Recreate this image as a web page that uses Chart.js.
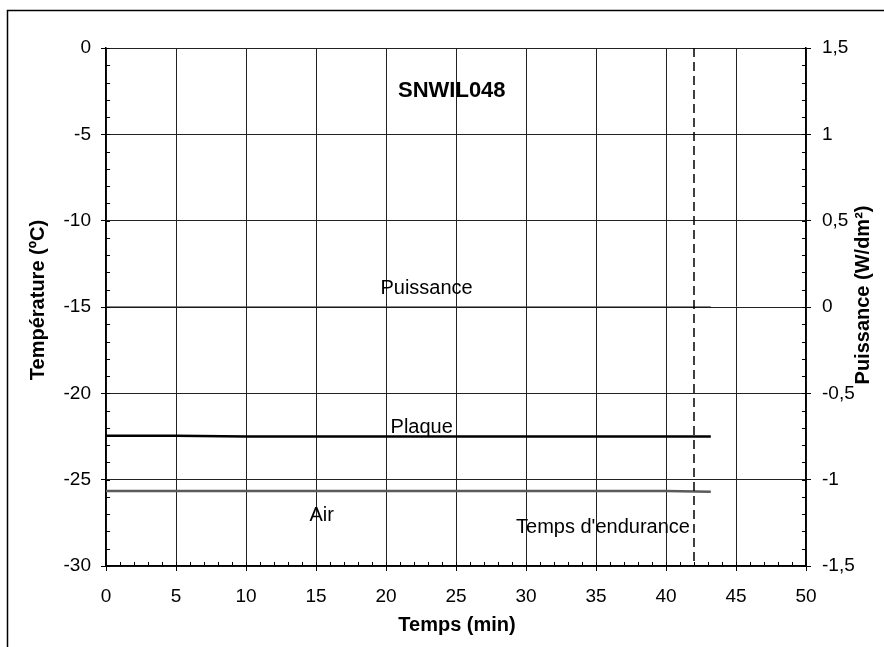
<!DOCTYPE html>
<html>
<head>
<meta charset="utf-8">
<script src="https://cdn.jsdelivr.net/npm/chart.js@4/dist/chart.umd.min.js"></script>
<style>
  html, body { margin: 0; padding: 0; background: #fff; }
  #wrap { position: relative; width: 884px; height: 647px; }
</style>
</head>
<body>
<div id="wrap"><canvas id="c" width="884" height="647"></canvas></div>
<script>
// ---- data ----
const timeMin      = [0, 5, 10, 15, 20, 25, 30, 35, 40, 43.2];
const plaqueTemp   = [-22.45, -22.45, -22.5, -22.5, -22.5, -22.5, -22.5, -22.5, -22.5, -22.5];
const airTemp      = [-25.65, -25.65, -25.65, -25.65, -25.65, -25.65, -25.65, -25.65, -25.65, -25.7];
const puissance    = [0, 0, 0, 0, 0, 0, 0, 0, 0, 0];
const enduranceTime = 42;
const xTicks  = [0, 5, 10, 15, 20, 25, 30, 35, 40, 45, 50];
const yTicks  = [0, -5, -10, -15, -20, -25, -30];
const y2Ticks = [1.5, 1, 0.5, 0, -0.5, -1, -1.5];

const chartTitle = 'SNWIL048';
const xTitle = 'Temps (min)';
const yTitle = 'Température (ºC)';
const y2Title = 'Puissance (W/dm²)';

const fmtComma = v => String(v).replace('.', ',');

const FF = '"Liberation Sans", Arial, sans-serif';
const tickFont = { family: 'Liberation Sans', size: 19 };
const annFont = '20px ' + FF;

const pts = (xs, ys) => xs.map((x, i) => ({ x: x, y: ys[i] }));

const decorPlugin = {
  id: 'decor',
  beforeDraw(chart) {
    const ctx = chart.ctx;
    ctx.save();
    ctx.fillStyle = '#fff';
    ctx.fillRect(0, 0, chart.width, chart.height);
    ctx.strokeStyle = '#000';
    ctx.lineWidth = 1.5;
    ctx.beginPath();
    ctx.moveTo(7.5, 647);
    ctx.lineTo(7.5, 10.5);
    ctx.lineTo(884, 10.5);
    ctx.stroke();
    ctx.restore();
  },
  afterDraw(chart) {
    const ctx = chart.ctx;
    const { x, y, y1 } = chart.scales;
    const ca = chart.chartArea;
    ctx.save();
    ctx.strokeStyle = '#000';
    ctx.lineWidth = 1;
    // minor ticks (inside)
    ctx.beginPath();
    for (let v = x.min; v <= x.max + 1e-9; v += 1) {
      const px = Math.round(x.getPixelForValue(v)) + 0.5;
      ctx.moveTo(px, ca.bottom); ctx.lineTo(px, ca.bottom - 4);
    }
    for (let v = y.min; v <= y.max + 1e-9; v += 1) {
      const py = Math.round(y.getPixelForValue(v)) + 0.5;
      ctx.moveTo(ca.left, py); ctx.lineTo(ca.left + 4, py);
    }
    for (let k = 0; k <= 30; k++) {
      const v = y1.min + k * 0.1;
      const py = Math.round(y1.getPixelForValue(v)) + 0.5;
      ctx.moveTo(ca.right, py); ctx.lineTo(ca.right - 4, py);
    }
    ctx.stroke();

    // annotations in data coordinates
    ctx.fillStyle = '#000';
    ctx.textBaseline = 'alphabetic';
    ctx.textAlign = 'center';
    const ann = (txt, dx, dy, font) => {
      ctx.font = font;
      ctx.fillText(txt, x.getPixelForValue(dx), y.getPixelForValue(dy));
    };
    ann(chartTitle, 24.7, -2.84, 'bold 22px ' + FF);
    ann('Puissance', 22.9, -14.24, annFont);
    ann('Plaque', 22.55, -22.28, annFont);
    ann('Air', 15.4, -27.37, annFont);
    ann("Temps d'endurance", 35.5, -28.11, annFont);

    // axis titles
    const midY = (ca.top + ca.bottom) / 2;
    ctx.textBaseline = 'middle';
    ctx.font = 'bold 20px ' + FF;
    ctx.fillText(xTitle, (ca.left + ca.right) / 2 + 1, 625);
    ctx.save();
    ctx.translate(38, midY - 7);
    ctx.rotate(-Math.PI / 2);
    ctx.fillText(yTitle, 0, 0);
    ctx.restore();
    ctx.save();
    ctx.translate(863, midY - 12);
    ctx.rotate(-Math.PI / 2);
    ctx.fillText(y2Title, 0, 0);
    ctx.restore();
    ctx.restore();
  }
};

new Chart(document.getElementById('c'), {
  type: 'line',
  data: {
    datasets: [
      { label: 'Puissance', data: pts(timeMin, puissance), yAxisID: 'y1',
        borderColor: '#111', borderWidth: 1.2, pointRadius: 0, order: 3 },
      { label: 'Plaque', data: pts(timeMin, plaqueTemp), yAxisID: 'y',
        borderColor: '#000', borderWidth: 2.5, pointRadius: 0, order: 1 },
      { label: 'Air', data: pts(timeMin, airTemp), yAxisID: 'y',
        borderColor: '#5a5a5a', borderWidth: 2.5, pointRadius: 0, order: 2 },
      { label: 'Endurance', data: [{ x: enduranceTime, y: 0 }, { x: enduranceTime, y: -30 }], yAxisID: 'y',
        borderColor: '#000', borderWidth: 1.5, borderDash: [9, 5], pointRadius: 0, order: 0 }
    ]
  },
  options: {
    responsive: false,
    animation: false,
    events: [],
    layout: { padding: { top: 48, left: 0, right: 0, bottom: 0 } },
    plugins: { legend: { display: false }, tooltip: { enabled: false }, title: { display: false } },
    scales: {
      x: {
        type: 'linear', min: 0, max: 50,
        afterFit(s) { s.height = 81; },
        afterBuildTicks(s) { s.ticks = xTicks.map(v => ({ value: v })); },
        ticks: { font: tickFont, color: '#000', padding: 14, maxRotation: 0 },
        grid: { color: '#222', lineWidth: 1, tickLength: 5, tickColor: '#000' },
        border: { color: '#000', width: 1.5, dash: [] }
      },
      y: {
        type: 'linear', position: 'left', min: -30, max: 0,
        afterFit(s) { s.width = 106; },
        afterBuildTicks(s) { s.ticks = yTicks.map(v => ({ value: v })); },
        ticks: { font: tickFont, color: '#000', padding: 10 },
        grid: { color: '#222', lineWidth: 1, tickLength: 5, tickColor: '#000' },
        border: { color: '#000', width: 1.5 }
      },
      y1: {
        type: 'linear', position: 'right', min: -1.5, max: 1.5,
        afterFit(s) { s.width = 78; },
        afterBuildTicks(s) { s.ticks = y2Ticks.map(v => ({ value: v })); },
        ticks: { font: tickFont, color: '#000', padding: 11, callback: v => fmtComma(v) },
        grid: { drawOnChartArea: false, tickLength: 5, tickColor: '#000' },
        border: { color: '#000', width: 1.5 }
      }
    }
  },
  plugins: [decorPlugin]
});
</script>
</body>
</html>
